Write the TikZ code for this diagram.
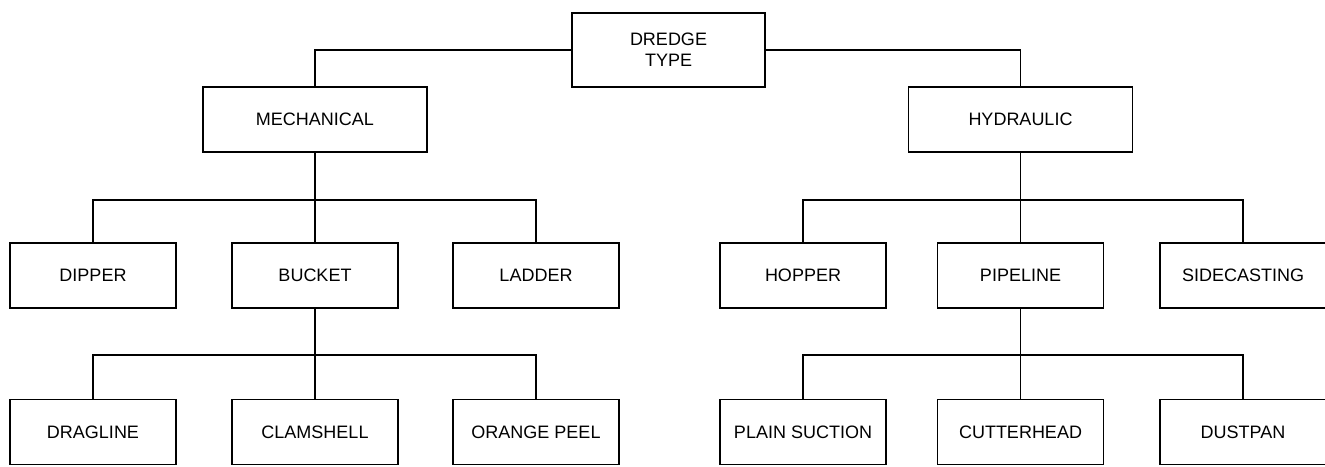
\documentclass[tikz,border=0pt]{standalone}
\usepackage{fontspec}
\setmainfont{Liberation Sans}
\usepackage{tikz}

\begin{document}
\begin{tikzpicture}[x=1pt,y=-1pt,
  box/.style={draw,line width=1.5pt,minimum width=166pt,minimum height=65pt,
    inner sep=0pt,align=center,font=\fontsize{18}{21}\selectfont},
  wide/.style={box,minimum width=224pt},
  link/.style={line width=1.5pt}]
\useasboundingbox (0,0) rectangle (1325,466);
\node[box,minimum width=193pt,minimum height=74pt] (type) at (668.5,50) {DREDGE\\TYPE};
\node[wide] (mech) at (315,119.5) {MECHANICAL};
\node[wide] (hyd) at (1020.5,119.5) {HYDRAULIC};
\node[box] (dipper) at (93,275.5) {DIPPER};
\node[box] (bucket) at (315,275.5) {BUCKET};
\node[box] (ladder) at (536,275.5) {LADDER};
\node[box] (hopper) at (803,275.5) {HOPPER};
\node[box] (pipeline) at (1020.5,275.5) {PIPELINE};
\node[box] (sidecast) at (1243,275.5) {SIDECASTING};
\node[box] (dragline) at (93,432) {DRAGLINE};
\node[box] (clamshell) at (315,432) {CLAMSHELL};
\node[box] (orange) at (536,432) {ORANGE PEEL};
\node[box] (suction) at (803,432) {PLAIN SUCTION};
\node[box] (cutter) at (1020.5,432) {CUTTERHEAD};
\node[box] (dustpan) at (1243,432) {DUSTPAN};
\coordinate (mechjoin) at (315,200);
\coordinate (hydjoin) at (1020.5,200);
\coordinate (bucketjoin) at (315,355);
\coordinate (pipejoin) at (1020.5,355);
\draw[link] (type.west) -| (mech.north);
\draw[link] (type.east) -| (hyd.north);
\draw[link] (mech.south) -- (bucket.north);
\draw[link] (dipper.north) |- (mechjoin) -| (ladder.north);
\draw[link] (hyd.south) -- (pipeline.north);
\draw[link] (hopper.north) |- (hydjoin) -| (sidecast.north);
\draw[link] (bucket.south) -- (clamshell.north);
\draw[link] (dragline.north) |- (bucketjoin) -| (orange.north);
\draw[link] (pipeline.south) -- (cutter.north);
\draw[link] (suction.north) |- (pipejoin) -| (dustpan.north);
\end{tikzpicture}
\end{document}
